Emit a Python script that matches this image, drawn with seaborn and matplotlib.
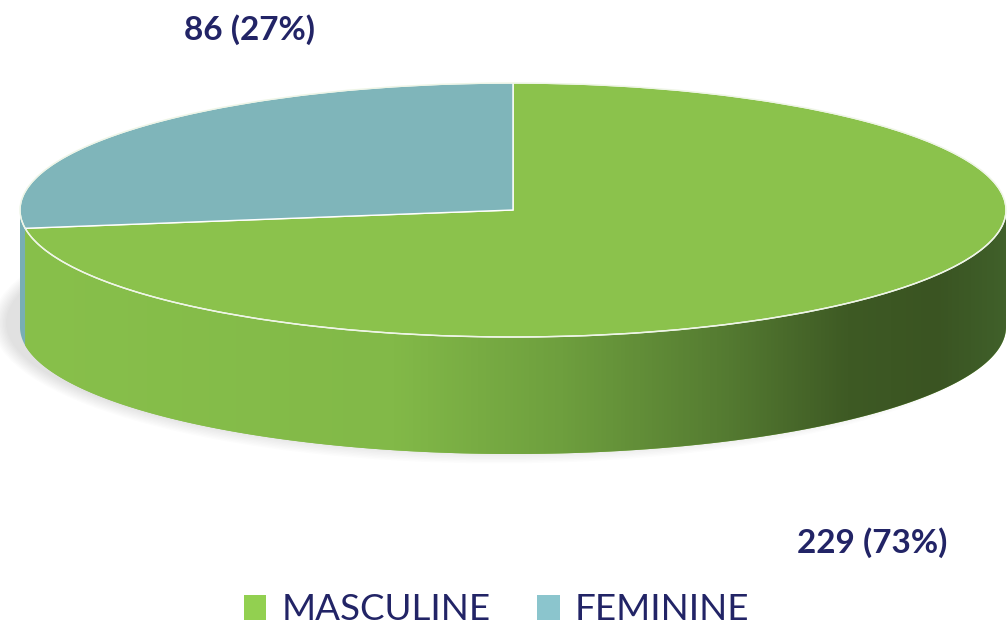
import numpy as np
import matplotlib
matplotlib.use('Agg')
import matplotlib.pyplot as plt
from matplotlib.patches import Polygon, Ellipse, Patch
from matplotlib.colors import LinearSegmentedColormap
import seaborn as sns

labels = ['MASCULINE', 'FEMININE']
counts = [229, 86]
top_colors = ['#8BC24C', '#7FB5BA']
side_colors = ['#86BE4A', '#78AEB4']
legend_colors = ['#92D050', '#8BC5CD']
text_color = '#222466'
label_pos = [(872, 543), (249, 30)]

sns.set_theme(style='white')
plt.rcParams['font.family'] = ['Lato', 'DejaVu Sans']

fig = plt.figure(figsize=(10.08, 6.34), dpi=100)
ax = fig.add_axes([0, 0, 1, 1])
ax.set_xlim(0, 1008)
ax.set_ylim(634, 0)
ax.axis('off')

# ellipse geometry of the pie top (pixels)
cx, cy, a, b, depth = 513, 210, 493, 127, 117


def arc(t0, t1, dy=0, n=200):
    t = np.radians(np.linspace(t0, t1, n))
    return np.column_stack([cx + a * np.cos(t), cy - b * np.sin(t) + dy])


# soft shadow, mostly towards lower left
for i in range(10):
    ax.add_patch(Ellipse((cx - 14, cy + depth - 4), 2 * a + i * 3, 2 * b + i * 3,
                         facecolor='black', edgecolor='none', alpha=0.01, zorder=1))

total = sum(counts)
fracs = [c / total for c in counts]

# wedge angle ranges, clockwise from 12 o'clock
ranges = []
start = 90
for f in fracs:
    end = start - 360 * f
    ranges.append((end, start))
    start = end

# side gradient for the green slice (light left -> dark right)
green_side = LinearSegmentedColormap.from_list('gs', [
    (0.0, '#88C04B'), (0.38, '#82B948'), (0.55, '#6E9F3E'),
    (0.72, '#547A31'), (0.84, '#3E5A24'), (0.93, '#3A5422'), (1.0, '#40602A')])
grad = np.linspace(0, 1, 512).reshape(1, -1)

for i, (lo, hi) in enumerate(ranges):
    for w0, w1 in [(-180, 0), (180, 360), (540, 720)]:
        s0, s1 = max(lo, w0), min(hi, w1)
        if s1 <= s0:
            continue
        pts = np.vstack([arc(s0, s1), arc(s1, s0, depth)])
        poly = Polygon(pts, closed=True, facecolor=side_colors[i], edgecolor='none', zorder=2)
        ax.add_patch(poly)
        if i == 0:
            im = ax.imshow(grad, cmap=green_side, aspect='auto',
                           extent=[cx - a, cx + a, cy + b + depth, cy - b], zorder=3)
            im.set_clip_path(poly)

for i, (lo, hi) in enumerate(ranges):
    pts = np.vstack([[cx, cy], arc(lo, hi)])
    ax.add_patch(Polygon(pts, closed=True, facecolor=top_colors[i],
                         edgecolor='white', linewidth=1.0, zorder=4))

ax.add_patch(Ellipse((cx, cy), 2 * a, 2 * b, facecolor='none',
                     edgecolor='#EEF5E6', linewidth=1.0, zorder=5))

for c, f, (x, y) in zip(counts, fracs, label_pos):
    ax.text(x, y, f'{c} ({round(f * 100)}%)', ha='center', va='center',
            fontsize=24, fontweight='bold', color=text_color)

handles = [Patch(facecolor=col, edgecolor='none') for col in legend_colors]
fig.legend(handles, labels, loc='center', bbox_to_anchor=(0.4926, 0.038), ncol=2,
           frameon=False, fontsize=26.5, handlelength=0.62, handleheight=0.7,
           columnspacing=1.28, handletextpad=0.4, labelcolor=text_color)

fig.savefig('out.png', dpi=100)
